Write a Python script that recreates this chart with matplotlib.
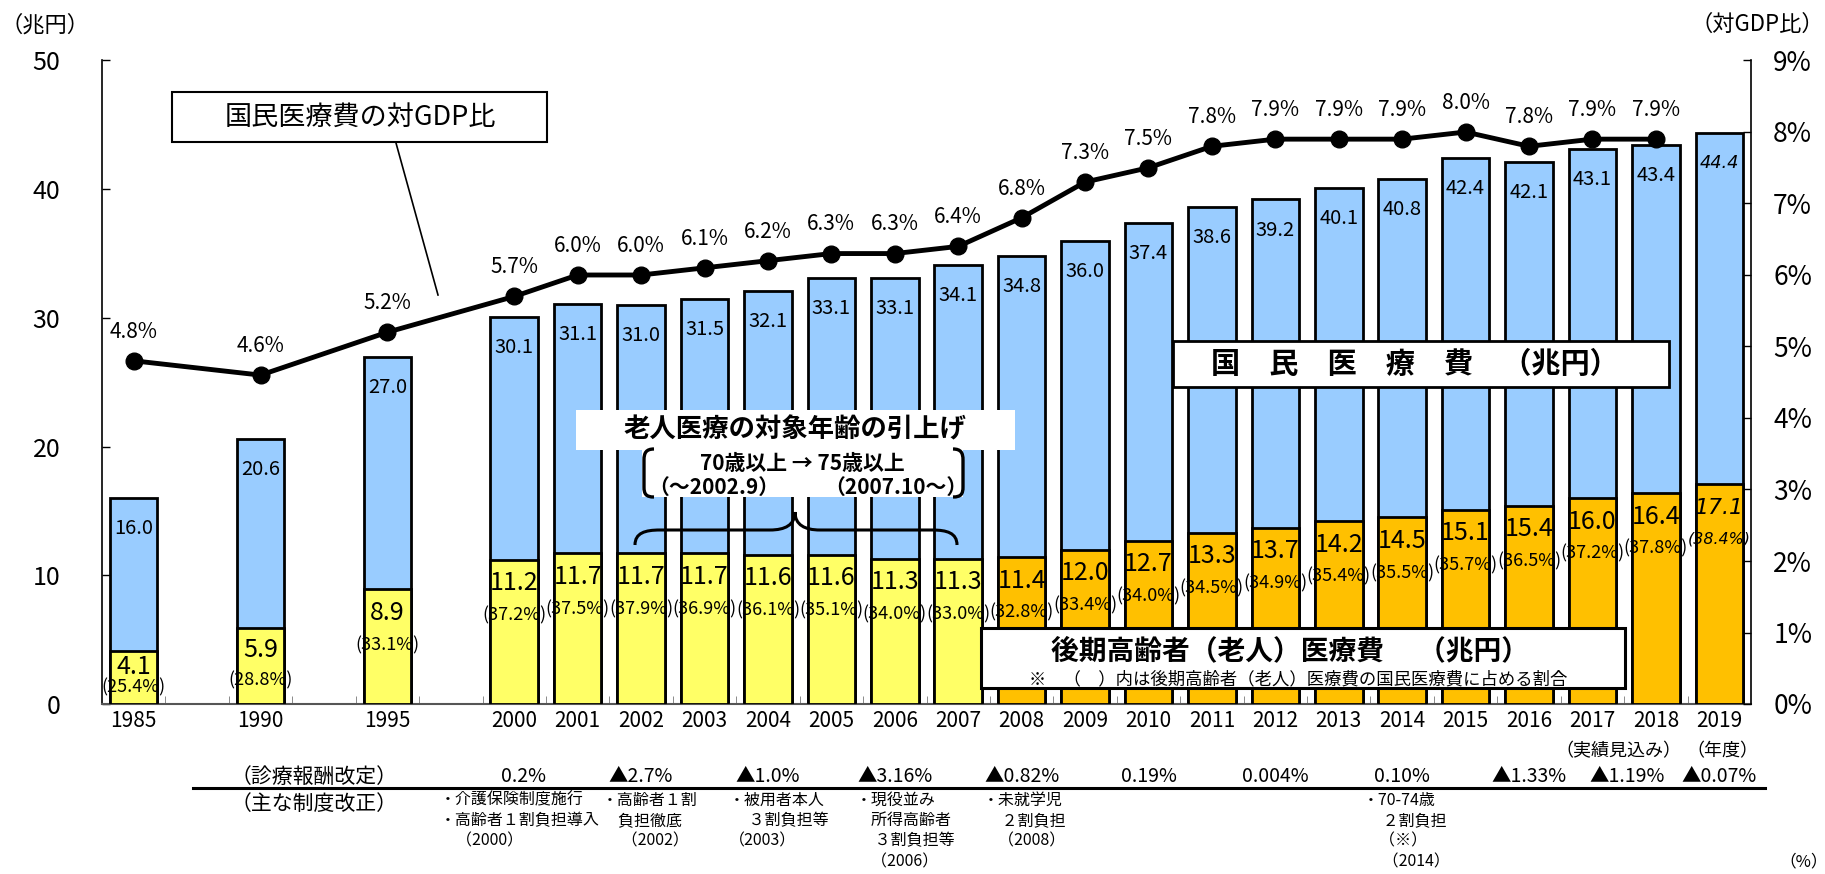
import matplotlib
matplotlib.use("Agg")
import matplotlib.pyplot as plt
from matplotlib.patches import Rectangle, PathPatch
from matplotlib.path import Path
from matplotlib.lines import Line2D
from matplotlib.transforms import blended_transform_factory

# ---------------- data ----------------
years = ['1985', '1990', '1995', '2000', '2001', '2002', '2003', '2004', '2005',
         '2006', '2007', '2008', '2009', '2010', '2011', '2012', '2013', '2014',
         '2015', '2016', '2017', '2018', '2019']
total_cost = [16.0, 20.6, 27.0, 30.1, 31.1, 31.0, 31.5, 32.1, 33.1, 33.1, 34.1,
              34.8, 36.0, 37.4, 38.6, 39.2, 40.1, 40.8, 42.4, 42.1, 43.1, 43.4, 44.4]
elderly_cost = [4.1, 5.9, 8.9, 11.2, 11.7, 11.7, 11.7, 11.6, 11.6, 11.3, 11.3,
                11.4, 12.0, 12.7, 13.3, 13.7, 14.2, 14.5, 15.1, 15.4, 16.0, 16.4, 17.1]
elderly_share = [25.4, 28.8, 33.1, 37.2, 37.5, 37.9, 36.9, 36.1, 35.1, 34.0, 33.0,
                 32.8, 33.4, 34.0, 34.5, 34.9, 35.4, 35.5, 35.7, 36.5, 37.2, 37.8, 38.4]
gdp_ratio = [4.8, 4.6, 5.2, 5.7, 6.0, 6.0, 6.1, 6.2, 6.3, 6.3, 6.4,
             6.8, 7.3, 7.5, 7.8, 7.9, 7.9, 7.9, 8.0, 7.8, 7.9, 7.9]
projection_year = '2019'
kouki_start_year = '2008'

rev_years = ['2000', '2002', '2004', '2006', '2008', '2010', '2012', '2014', '2016', '2018', '2019']
rev_rates = ['0.2%', '▲2.7%', '▲1.0%', '▲3.16%', '▲0.82%', '0.19%', '0.004%', '0.10%',
             '▲1.33%', '▲1.19%', '▲0.07%']

reform_years = ['2000', '2002', '2004', '2006', '2008', '2014']
reform_texts = [
    ['・介護保険制度施行', '・高齢者１割負担導入', '　（2000）'],
    ['・高齢者１割', '　負担徹底', '　 （2002）'],
    ['・被用者本人', '　 ３割負担等', '（2003）'],
    ['・現役並み', '　所得高齢者', '　 ３割負担等', '　（2006）'],
    ['・未就学児', '　 ２割負担', '　（2008）'],
    ['・70-74歳', '　 ２割負担', '　（※）', '　 （2014）'],
]

# ---------------- fonts ----------------
JP = 'Noto Sans CJK JP'
plt.rcParams['font.family'] = [JP, 'DejaVu Sans']
ITALIC = ['DejaVu Sans']

# ---------------- layout ----------------
W, H = 1825, 874
fig = plt.figure(figsize=(W / 100, H / 100), dpi=100)
L, R, T, B = 102, 1751, 60.5, 704
ax = fig.add_axes([L / W, 1 - B / H, (R - L) / W, (B - T) / H])


def slot(y):
    y = int(y)
    return (y - 1985) // 5 * 2 if y < 2000 else 6 + (y - 2000)


xs = [slot(y) for y in years]
pos = dict(zip(years, xs))

ax.set_xlim(-0.5, 25.5)
ax.set_ylim(0, 50)

bw = 0.75
ax.bar(xs, total_cost, width=bw, color='#99CCFF', edgecolor='black', linewidth=2, zorder=2)
el_colors = ['#FFC000' if int(y) >= int(kouki_start_year) else '#FFFF66' for y in years]
ax.bar(xs, elderly_cost, width=bw, color=el_colors, edgecolor='black', linewidth=2, zorder=3)

for s in ('top', 'right'):
    ax.spines[s].set_visible(False)
ax.spines['left'].set_linewidth(1.2)
ax.spines['bottom'].set_color('#555555')
ax.spines['bottom'].set_linewidth(1.5)

ax.set_yticks(range(0, 51, 10))
ax.set_yticklabels([str(v) for v in range(0, 51, 10)], fontsize=18)
ax.tick_params(axis='y', direction='in', length=6, width=1, pad=30)

ax.set_xticks(xs)
ax.set_xticklabels(years, fontsize=15)
ax.tick_params(axis='x', which='major', length=0, pad=4)
ax.set_xticks([i + 0.5 for i in range(25)], minor=True)
ax.tick_params(axis='x', which='minor', direction='in', length=6, color='#777777')

ax2 = ax.twinx()
ax2.set_ylim(0, 9)
ax2.set_yticks(range(10))
ax2.set_yticklabels([f'{i}%' for i in range(10)], fontsize=19)
ax2.tick_params(axis='y', direction='in', length=6, width=1, pad=16)
for s in ('top', 'left', 'bottom'):
    ax2.spines[s].set_visible(False)
ax2.spines['right'].set_linewidth(1.2)

ax2.plot(xs[:len(gdp_ratio)], gdp_ratio, color='black', lw=3.5, marker='o', ms=12, zorder=5)
for x, v in zip(xs, gdp_ratio):
    ax2.annotate(f'{v:.1f}%', (x, v), xytext=(0, 21), textcoords='offset points',
                 ha='center', va='center', fontsize=15)

px_per_unit = (B - T) / 50.0
for x, y, t, e, s in zip(xs, years, total_cost, elderly_cost, elderly_share):
    proj = (y == projection_year)
    kw = dict(style='italic', fontfamily=ITALIC) if proj else {}
    f = 0.88 if proj else 1.0
    ax.annotate(f'{t:.1f}', (x, t), xytext=(0, -22), textcoords='offset points',
                ha='center', va='center', fontsize=14.5 * f, zorder=6, **kw)
    hpx = e * px_per_unit
    sc = min(1.0, hpx / 80.0)
    ax.annotate(f'{e:.1f}', (x, e), xytext=(0, -17 * sc), textcoords='offset points',
                ha='center', va='center', fontsize=18 * f, zorder=6, **kw)
    ax.annotate(f'({s:.1f}%)', (x, e), xytext=(0, -40 * sc), textcoords='offset points',
                ha='center', va='center', fontsize=13 * f, zorder=6, **kw)


# ---------------- figure-level annotations (pixel helpers) ----------------
def P(px, py):
    return (px / W, 1 - py / H)


def fbox(x0, y0, x1, y1, lw=0, ec='none'):
    r = Rectangle(P(x0, y1), (x1 - x0) / W, (y1 - y0) / H, transform=fig.transFigure,
                  facecolor='white', edgecolor=ec, linewidth=lw, zorder=4)
    fig.add_artist(r)


def ftext(px, py, s, **kw):
    ha = kw.pop('ha', 'center')
    va = kw.pop('va', 'center')
    fig.text(px / W, 1 - py / H, s, ha=ha, va=va, zorder=6, **kw)


def fpath(points, codes, lw):
    verts = [P(a, b) for a, b in points]
    fig.add_artist(PathPatch(Path(verts, codes), transform=fig.transFigure, facecolor='none',
                             edgecolor='black', linewidth=lw, zorder=6))


# GDP ratio callout
fbox(172, 92, 547, 142, lw=1.5, ec='black')
ftext(360, 117, '国民医療費の対GDP比', fontsize=19.5)
fig.add_artist(Line2D([396 / W, 438 / W], [1 - 143 / H, 1 - 295 / H], transform=fig.transFigure,
                      color='black', lw=1.2, zorder=6))

# age raise callout
fbox(576, 410, 1015, 450)
ftext(795, 430, '老人医療の対象年齢の引上げ', fontsize=19, fontweight='bold')
fbox(642, 449, 963, 497)
ftext(802, 463, '70歳以上 → 75歳以上', fontsize=15, fontweight='bold')
ftext(714, 487, '（～2002.9）', fontsize=15, fontweight='bold')
ftext(896, 487, '（2007.10～）', fontsize=15, fontweight='bold')
C = Path.CURVE4
Lc = Path.LINETO
M = Path.MOVETO
fpath([(654, 449), (646, 449), (644, 453), (644, 460), (644, 487), (644, 494), (646, 497), (654, 497)],
      [M, C, C, C, Lc, C, C, C], 2.4)
fpath([(1607 - 654, 449), (1607 - 646, 449), (1607 - 644, 453), (1607 - 644, 460), (1607 - 644, 487),
       (1607 - 644, 494), (1607 - 646, 497), (1607 - 654, 497)],
      [M, C, C, C, Lc, C, C, C], 2.4)
fpath([(635, 545), (635, 533), (645, 530), (660, 530), (770, 530), (785, 530), (795, 525), (795, 512),
       (795, 525), (805, 530), (820, 530), (932, 530), (947, 530), (957, 533), (957, 545)],
      [M, C, C, C, Lc, C, C, C, C, C, C, Lc, C, C, C], 2.2)

# national medical expenditure label
fbox(1173, 341, 1669, 387, lw=2, ec='black')
ftext(1415, 364, '国　民　医　療　費　（兆円）', fontsize=21, fontweight='bold')

# elderly medical expenditure label
fbox(981, 628, 1625, 688, lw=2.2, ec='black')
ftext(1290, 651, '後期高齢者（老人）医療費　 （兆円）', fontsize=20, fontweight='bold')
ftext(1298, 679, '※　（　）内は後期高齢者（老人）医療費の国民医療費に占める割合', fontsize=12.5)

# axis unit labels
ftext(45, 25, '（兆円）', fontsize=16)
ftext(1824, 24, '（対GDP比）', fontsize=16, ha='right')
ftext(1804, 862, '（%）', fontsize=12)
ftext(1618, 751, '（実績見込み）', fontsize=13)
ftext(1722, 751, '（年度）', fontsize=13)

# bottom table
ftext(314, 777, '（診療報酬改定）', fontsize=15)
ftext(314, 804, '（主な制度改正）', fontsize=15)
fig.add_artist(Line2D([193 / W, 1765 / W], [1 - 788 / H, 1 - 788 / H], transform=fig.transFigure,
                      color='black', lw=2.2, zorder=6))

bt = blended_transform_factory(ax.transData, fig.transFigure)
rev_shift = {'2000': 0.15, '2018': -0.45}
for y, r in zip(rev_years, rev_rates):
    ax.text(pos[y] + rev_shift.get(y, 0), 1 - 777 / H, r, transform=bt, ha='center', va='center',
            fontsize=14, clip_on=False)

reform_shift = {'2000': -1.17}
for y, lines in zip(reform_years, reform_texts):
    x0 = pos[y] + reform_shift.get(y, -0.62)
    for i, line in enumerate(lines):
        ax.text(x0, 1 - (800 + 20.5 * i) / H, line, transform=bt, ha='left', va='center',
                fontsize=11.5, clip_on=False)

fig.savefig('out.png', dpi=100)
